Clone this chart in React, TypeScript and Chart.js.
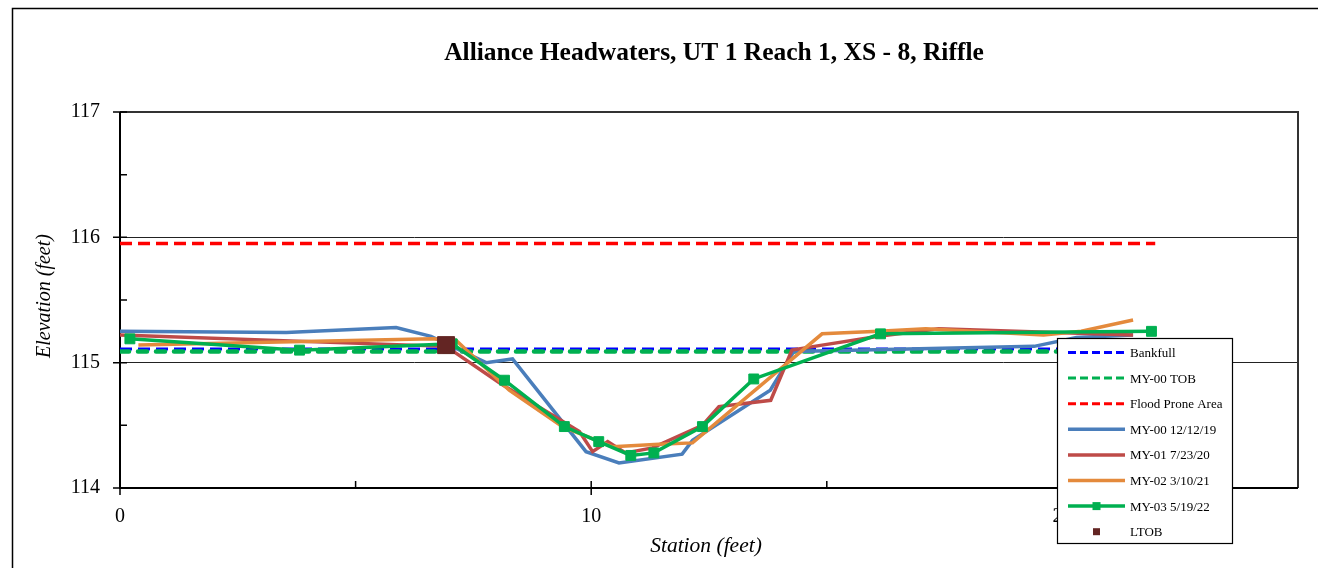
import React, { useEffect, useRef } from "react";
import { Chart, registerables } from "chart.js";

Chart.register(...registerables);

const chartTitle = "Alliance Headwaters, UT 1 Reach 1, XS - 8, Riffle";
const xAxisTitle = "Station (feet)";
const yAxisTitle = "Elevation (feet)";

const xMin = 0;
const xMax = 25;
const xLabeled = [0, 10, 20];
const xMinorTicks = [5, 15];
const yMin = 114;
const yMax = 117;
const yMajorTicks = [114, 115, 116, 117];
const yMinorTicks = [114.5, 115.5, 116.5];
const yGridLines = [115, 116];

const bankfullX = [0, 22];
const bankfullY = [115.11, 115.11];
const tobX = [0, 22];
const tobY = [115.09, 115.09];
const floodX = [0, 21.97];
const floodY = [115.95, 115.95];

const my00X = [0, 3.53, 5.86, 6.6, 7.77, 8.33, 9.89, 10.59, 11.93, 12.15, 13.8, 14.3, 19.4, 20.3, 21.5];
const my00Y = [115.25, 115.24, 115.28, 115.21, 115.0, 115.03, 114.29, 114.2, 114.27, 114.38, 114.78, 115.09, 115.13, 115.2, 115.22];

const my01X = [0, 6.92, 8.09, 9.75, 10.03, 10.35, 10.73, 11.3, 12.36, 12.71, 13.81, 14.26, 14.9, 16.1, 17.37, 19.84, 21.5];
const my01Y = [115.22, 115.13, 114.83, 114.45, 114.29, 114.37, 114.28, 114.32, 114.5, 114.65, 114.7, 115.1, 115.14, 115.21, 115.27, 115.24, 115.22];

const my02X = [0.39, 6.64, 7.13, 8.26, 9.39, 10.45, 11.44, 12.15, 14.9, 16.1, 17.1, 19.6, 20.4, 21.5];
const my02Y = [115.14, 115.19, 115.18, 114.78, 114.49, 114.33, 114.35, 114.36, 115.23, 115.25, 115.27, 115.22, 115.25, 115.34];

const my03X = [0.21, 3.81, 7.05, 8.16, 9.43, 10.16, 10.84, 11.33, 12.36, 13.45, 16.14, 21.89];
const my03Y = [115.19, 115.1, 115.15, 114.86, 114.49, 114.37, 114.26, 114.28, 114.49, 114.87, 115.23, 115.25];

const ltobX = [6.92];
const ltobY = [115.14];

const seriesLabels = [
  "Bankfull",
  "MY-00 TOB",
  "Flood Prone Area",
  "MY-00 12/12/19",
  "MY-01 7/23/20",
  "MY-02 3/10/21",
  "MY-03 5/19/22",
  "LTOB",
];

const SERIF = "'Liberation Serif', 'Times New Roman', serif";

function pts(xs: number[], ys: number[]) {
  return xs.map((x, i) => ({ x, y: ys[i] }));
}

export default function App() {
  const ref = useRef<HTMLCanvasElement | null>(null);

  useEffect(() => {
    if (!ref.current) return;
    const N = 8;
    const base = { pointRadius: 0, pointHitRadius: 0, tension: 0, fill: false };
    const datasets: any[] = [
      { ...base, label: seriesLabels[0], data: pts(bankfullX, bankfullY), borderColor: "#0000FF", borderWidth: 3, borderDash: [12, 6], legendKind: "dash" },
      { ...base, label: seriesLabels[1], data: pts(tobX, tobY), borderColor: "#00B050", borderWidth: 4.5, borderDash: [9, 9], borderCapStyle: "round", legendKind: "dash" },
      { ...base, label: seriesLabels[2], data: pts(floodX, floodY), borderColor: "#FF0000", borderWidth: 3.5, borderDash: [12, 6], legendKind: "dash" },
      { ...base, label: seriesLabels[3], data: pts(my00X, my00Y), borderColor: "#4A7EBB", borderWidth: 3.5, legendKind: "line" },
      { ...base, label: seriesLabels[4], data: pts(my01X, my01Y), borderColor: "#BE4B48", borderWidth: 3.5, legendKind: "line" },
      { ...base, label: seriesLabels[5], data: pts(my02X, my02Y), borderColor: "#E48A3C", borderWidth: 3.5, legendKind: "line" },
      {
        ...base, label: seriesLabels[6], data: pts(my03X, my03Y), borderColor: "#00B050", borderWidth: 3.5,
        pointRadius: 7, pointStyle: "rect", pointBackgroundColor: "#00B050", pointBorderColor: "#00B050", pointBorderWidth: 1,
        legendKind: "lineMarker",
      },
      {
        ...base, label: seriesLabels[7], data: pts(ltobX, ltobY), showLine: false, borderColor: "#632523",
        pointRadius: 12, pointStyle: "rect", pointBackgroundColor: "#632523", pointBorderColor: "#632523", pointBorderWidth: 1,
        legendKind: "marker",
      },
    ];
    datasets.forEach((d, i) => (d.order = N - i));

    const framePlugin = {
      id: "frame",
      beforeDatasetsDraw(chart: any) {
        const { ctx, chartArea: a, scales } = chart;
        const xs = scales.x, ys = scales.y;
        ctx.save();
        ctx.strokeStyle = "#333";
        ctx.lineWidth = 2;
        ctx.beginPath();
        ctx.moveTo(a.left, a.top);
        ctx.lineTo(a.right, a.top);
        ctx.lineTo(a.right, a.bottom);
        ctx.stroke();
        ctx.strokeStyle = "#000";
        ctx.lineWidth = 2;
        ctx.beginPath();
        ctx.moveTo(a.left, a.top);
        ctx.lineTo(a.left, a.bottom);
        ctx.lineTo(a.right, a.bottom);
        ctx.stroke();
        ctx.lineWidth = 1.5;
        ctx.beginPath();
        yMajorTicks.forEach((v) => {
          const y = ys.getPixelForValue(v);
          ctx.moveTo(a.left - 7, y);
          ctx.lineTo(a.left + 7, y);
        });
        yMinorTicks.forEach((v) => {
          const y = ys.getPixelForValue(v);
          ctx.moveTo(a.left, y);
          ctx.lineTo(a.left + 7, y);
        });
        xLabeled.forEach((v) => {
          const x = xs.getPixelForValue(v);
          ctx.moveTo(x, a.bottom - 7);
          ctx.lineTo(x, a.bottom + 7);
        });
        xMinorTicks.forEach((v) => {
          const x = xs.getPixelForValue(v);
          ctx.moveTo(x, a.bottom - 7);
          ctx.lineTo(x, a.bottom);
        });
        ctx.stroke();
        ctx.restore();
      },
      afterDraw(chart: any) {
        const { ctx } = chart;
        ctx.save();
        ctx.strokeStyle = "#000";
        ctx.lineWidth = 1.5;
        ctx.beginPath();
        ctx.moveTo(12.5, 568);
        ctx.lineTo(12.5, 8.5);
        ctx.lineTo(1318, 8.5);
        ctx.stroke();
        ctx.fillStyle = "#000";
        ctx.textAlign = "center";
        ctx.textBaseline = "middle";
        ctx.font = `bold 25.5px ${SERIF}`;
        ctx.fillText(chartTitle, 714, 53);
        ctx.font = `italic 21.5px ${SERIF}`;
        ctx.fillText(xAxisTitle, 706, 546);
        ctx.save();
        ctx.translate(45, 296);
        ctx.rotate(-Math.PI / 2);
        ctx.font = `italic 20px ${SERIF}`;
        ctx.fillText(yAxisTitle, 0, 0);
        ctx.restore();

        const lx = 1057, ly = 338, lw = 175, lh = 205;
        ctx.fillStyle = "#fff";
        ctx.fillRect(lx, ly, lw, lh);
        ctx.strokeStyle = "#000";
        ctx.lineWidth = 1.2;
        ctx.strokeRect(lx + 0.5, ly + 0.5, lw, lh);
        const rowY0 = 352.5, rowH = 25.6;
        const sx0 = 1068, sx1 = 1125;
        chart.data.datasets.forEach((d: any, i: number) => {
          const y = rowY0 + i * rowH;
          ctx.save();
          if (d.legendKind === "dash" || d.legendKind === "line" || d.legendKind === "lineMarker") {
            ctx.strokeStyle = d.borderColor;
            ctx.lineWidth = d.legendKind === "dash" ? 3 : 3.5;
            ctx.setLineDash(d.legendKind === "dash" ? [8, 4] : []);
            ctx.lineCap = "butt";
            ctx.beginPath();
            ctx.moveTo(sx0, y);
            ctx.lineTo(sx1, y);
            ctx.stroke();
          }
          if (d.legendKind === "lineMarker" || d.legendKind === "marker") {
            const s = d.legendKind === "marker" ? 7 : 8;
            ctx.fillStyle = d.pointBackgroundColor;
            ctx.fillRect((sx0 + sx1) / 2 - s / 2, y - s / 2, s, s);
          }
          ctx.restore();
          ctx.fillStyle = "#000";
          ctx.textAlign = "left";
          ctx.textBaseline = "middle";
          ctx.font = `13px ${SERIF}`;
          ctx.fillText(d.label, 1130, y + 1);
        });
        ctx.restore();
      },
    };

    const chart = new Chart(ref.current, {
      type: "line",
      data: { datasets },
      options: {
        animation: false,
        responsive: false,
        devicePixelRatio: 1,
        layout: { padding: { left: 0, right: 20, top: 112, bottom: 0 } },
        plugins: { legend: { display: false }, title: { display: false }, tooltip: { enabled: false } },
        scales: {
          x: {
            type: "linear",
            min: xMin,
            max: xMax,
            afterFit: (s: any) => { s.height = 80; },
            afterBuildTicks: (s: any) => { s.ticks = xLabeled.map((v) => ({ value: v })); },
            grid: { display: false },
            border: { display: false },
            ticks: { padding: 9, color: "#000", font: { family: SERIF, size: 20 }, maxRotation: 0, callback: (v: any) => String(v) },
          },
          y: {
            type: "linear",
            min: yMin,
            max: yMax,
            afterFit: (s: any) => { s.width = 120; },
            afterBuildTicks: (s: any) => { s.ticks = yMajorTicks.map((v) => ({ value: v })); },
            grid: {
              drawTicks: false,
              lineWidth: 1,
              color: (c: any) => (c.tick && yGridLines.includes(c.tick.value) ? "#222" : "rgba(0,0,0,0)"),
            },
            border: { display: false },
            ticks: { padding: 20, color: "#000", font: { family: SERIF, size: 20 }, callback: (v: any) => String(v) },
          },
        },
      },
      plugins: [framePlugin],
    } as any);
    return () => chart.destroy();
  }, []);

  return (
    <div style={{ position: "fixed", left: 0, top: 0, width: 1318, height: 568, background: "#fff" }}>
      <canvas ref={ref} width={1318} height={568} style={{ display: "block" }} />
    </div>
  );
}
